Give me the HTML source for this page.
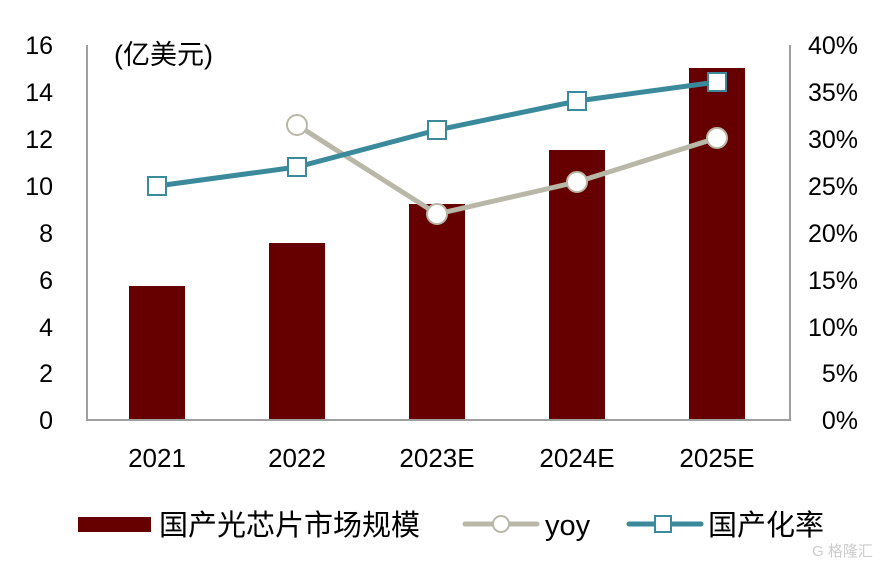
<!DOCTYPE html>
<html><head><meta charset="utf-8"><style>body{margin:0;background:#fff}svg{display:block}text{font-family:"Liberation Sans","Noto Sans CJK SC",sans-serif;fill:#000}</style></head><body>
<svg width="885" height="567" viewBox="0 0 885 567">
<g fill="#660000">
<rect x="129" y="286" width="56" height="134"/>
<rect x="269" y="243" width="56" height="177"/>
<rect x="409" y="204" width="56" height="216"/>
<rect x="549" y="150" width="56" height="270"/>
<rect x="689" y="68" width="56" height="352"/>
</g>
<polyline points="87,45 87,420 790,420 790,45" fill="none" stroke="#a0a0a0" stroke-width="2"/>
<g font-size="25" text-anchor="end">
<text x="53" y="429">0</text><text x="53" y="382">2</text><text x="53" y="336">4</text><text x="53" y="289">6</text><text x="53" y="242">8</text><text x="53" y="195">10</text><text x="53" y="148">12</text><text x="53" y="101">14</text><text x="53" y="54">16</text>
</g>
<g font-size="25" text-anchor="end">
<text x="858" y="429">0%</text><text x="858" y="382">5%</text><text x="858" y="336">10%</text><text x="858" y="289">15%</text><text x="858" y="242">20%</text><text x="858" y="195">25%</text><text x="858" y="148">30%</text><text x="858" y="101">35%</text><text x="858" y="54">40%</text>
</g>
<g font-size="26" text-anchor="middle">
<text x="157" y="467">2021</text><text x="297" y="467">2022</text><text x="437" y="467">2023E</text><text x="577" y="467">2024E</text><text x="717" y="467">2025E</text>
</g>
<text x="114" y="64" font-size="27">(亿美元)</text>
<polyline points="297,125 437,214 577,182 717,138" fill="none" stroke="#b9b8a8" stroke-width="5"/>
<g fill="#fff" stroke="#b9b8a8" stroke-width="2"><circle cx="297" cy="125" r="10"/><circle cx="437" cy="214" r="10"/><circle cx="577" cy="182" r="10"/><circle cx="717" cy="138" r="10"/></g>
<polyline points="157,186 297,167 437,130 577,101 717,82" fill="none" stroke="#3a8a9c" stroke-width="5"/>
<g fill="#fff" stroke="#3a8a9c" stroke-width="2"><rect x="148" y="177" width="18" height="18"/><rect x="288" y="158" width="18" height="18"/><rect x="428" y="121" width="18" height="18"/><rect x="568" y="92" width="18" height="18"/><rect x="708" y="73" width="18" height="18"/></g>
<rect x="78" y="517" width="73" height="15" fill="#660000"/>
<text x="159" y="535" font-size="29">国产光芯片市场规模</text>
<line x1="465" y1="524" x2="537" y2="524" stroke="#b9b8a8" stroke-width="5" stroke-linecap="round"/>
<circle cx="501" cy="524" r="8" fill="#fff" stroke="#b9b8a8" stroke-width="2"/>
<text x="545" y="535" font-size="29">yoy</text>
<line x1="629" y1="524" x2="701" y2="524" stroke="#3a8a9c" stroke-width="5" stroke-linecap="round"/>
<rect x="655" y="516" width="16" height="16" fill="#fff" stroke="#3a8a9c" stroke-width="2"/>
<text x="708" y="535" font-size="29">国产化率</text>
<text x="812" y="556" font-size="15" style="fill:#ccc">G 格隆汇</text>
</svg>
</body></html>
